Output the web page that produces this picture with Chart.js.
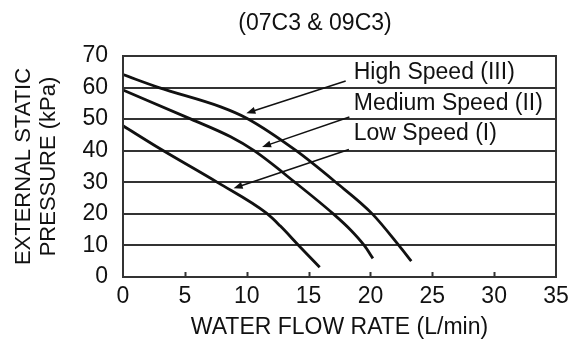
<!DOCTYPE html>
<html>
<head>
<meta charset="utf-8">
<script src="https://cdn.jsdelivr.net/npm/chart.js@4"></script>
<style>
  html, body { margin: 0; padding: 0; background: #fff; }
  #wrap { position: relative; width: 573px; height: 341px; }
</style>
</head>
<body>
<div id="wrap"><canvas id="chart"></canvas></div>
<script>
(function(){
  // pump curves: flow (L/min) vs pressure (kPa)
  const highX = [0, 2.9, 7.9, 10.0, 14.0, 17.2, 20.15, 22.3, 23.3];
  const highY = [64.1, 60, 53.9, 50.3, 40, 30, 20, 10, 5.0];
  const medX = [0, 5.5, 8.7, 10.6, 13.9, 17.0, 18.4, 19.5, 20.2];
  const medY = [59.2, 50, 44.4, 40, 30, 20, 14.9, 10, 5.9];
  const lowX = [0, 3.0, 7.7, 11.6, 12.7, 14.2, 15.9];
  const lowY = [47.9, 40.6, 29.8, 20.2, 16.2, 10, 3.1];

  const xTicks = [0, 5, 10, 15, 20, 25, 30, 35];
  const yTicks = [0, 10, 20, 30, 40, 50, 60, 70];

  // callouts: label text, where the text starts, where the arrow goes
  const labelNames = ["High Speed (III)", "Medium Speed (II)", "Low Speed (I)"];
  const labelX = [18.65, 18.65, 18.65];
  const labelY = [64.6, 54.8, 45.3];
  const arrowFromX = [18.0, 18.3, 18.26];
  const arrowFromY = [62.1, 50.7, 40.4];
  const arrowToX = [9.97, 11.24, 8.94];
  const arrowToY = [51.9, 41.2, 28.1];

  const chartTitle = "(07C3 & 09C3)";
  const xTitle = "WATER FLOW RATE (L/min)";
  const yTitle = ["EXTERNAL STATIC", "PRESSURE (kPa)"];

  const FONT = "'Liberation Sans', Arial, Helvetica, sans-serif";
  const INK = "#111";
  const GRID = "#333";

  function pts(xs, ys){
    return xs.map((x, i) => ({ x: x, y: ys[i] }));
  }

  function curve(label, xs, ys){
    return {
      label: label,
      data: pts(xs, ys),
      borderColor: INK,
      borderWidth: 2.8,
      pointRadius: 0,
      fill: false,
      cubicInterpolationMode: 'monotone'
    };
  }

  function drawArrow(ctx, x1, y1, x2, y2){
    const ang = Math.atan2(y2 - y1, x2 - x1);
    const head = 9, half = 3.5;
    ctx.beginPath();
    ctx.moveTo(x1, y1);
    ctx.lineTo(x2 - Math.cos(ang) * head * 0.8, y2 - Math.sin(ang) * head * 0.8);
    ctx.stroke();
    ctx.beginPath();
    ctx.moveTo(x2, y2);
    ctx.lineTo(x2 - Math.cos(ang) * head + Math.sin(ang) * half, y2 - Math.sin(ang) * head - Math.cos(ang) * half);
    ctx.lineTo(x2 - Math.cos(ang) * head - Math.sin(ang) * half, y2 - Math.sin(ang) * head + Math.cos(ang) * half);
    ctx.closePath();
    ctx.fill();
  }

  const extras = {
    id: 'extras',
    afterDraw(chart){
      const ctx = chart.ctx;
      const a = chart.chartArea;
      const xs = chart.scales.x, ys = chart.scales.y;
      ctx.save();

      // frame
      ctx.strokeStyle = GRID;
      ctx.lineWidth = 2;
      ctx.strokeRect(a.left, a.top, a.right - a.left, a.bottom - a.top);

      // short inward ticks on the flow axis
      xTicks.forEach(v => {
        if (v === xs.min || v === xs.max) return;
        const px = Math.round(xs.getPixelForValue(v)) + 0.5;
        ctx.beginPath();
        ctx.moveTo(px, a.bottom);
        ctx.lineTo(px, a.bottom - 5);
        ctx.stroke();
      });

      // callout arrows
      ctx.strokeStyle = INK;
      ctx.fillStyle = INK;
      ctx.lineWidth = 1.5;
      arrowFromX.forEach((fx, i) => {
        drawArrow(ctx,
          xs.getPixelForValue(fx), ys.getPixelForValue(arrowFromY[i]),
          xs.getPixelForValue(arrowToX[i]), ys.getPixelForValue(arrowToY[i]));
      });

      // callout labels
      ctx.font = "23px " + FONT;
      ctx.textAlign = 'left';
      ctx.textBaseline = 'middle';
      labelNames.forEach((t, i) => {
        ctx.fillText(t, xs.getPixelForValue(labelX[i]), ys.getPixelForValue(labelY[i]));
      });

      // chart title
      ctx.textAlign = 'center';
      ctx.fillText(chartTitle, 315, 24);
      ctx.restore();
    }
  };

  new Chart(document.getElementById('chart').getContext('2d'), {
    type: 'line',
    data: {
      datasets: [
        curve('High Speed (III)', highX, highY),
        curve('Medium Speed (II)', medX, medY),
        curve('Low Speed (I)', lowX, lowY)
      ]
    },
    options: {
      responsive: true,
      maintainAspectRatio: false,
      animation: false,
      layout: { padding: { top: 56, right: 17, bottom: 0, left: 0 } },
      plugins: {
        legend: { display: false },
        tooltip: { enabled: false },
        title: { display: false }
      },
      scales: {
        x: {
          type: 'linear',
          min: 0,
          max: 35,
          afterBuildTicks: s => { s.ticks = xTicks.map(v => ({ value: v })); },
          afterFit: s => { s.height = 64; s.paddingLeft = 0; s.paddingRight = 0; },
          ticks: { color: INK, font: { family: FONT, size: 23 }, padding: 6, maxRotation: 0 },
          grid: { drawOnChartArea: false, drawTicks: false },
          border: { display: true, color: GRID, width: 2 },
          title: {
            display: true, text: xTitle, color: INK,
            font: { family: FONT, size: 23 }, padding: { top: 0, bottom: 0 }
          }
        },
        y: {
          min: 0,
          max: 70,
          afterBuildTicks: s => { s.ticks = yTicks.map(v => ({ value: v })); },
          afterFit: s => { s.width = 123; s.paddingTop = 0; s.paddingBottom = 0; },
          ticks: { color: INK, font: { family: FONT, size: 23 }, padding: 15 },
          grid: { color: GRID, lineWidth: 2, drawTicks: false },
          border: { display: true, color: GRID, width: 2 },
          title: {
            display: true, text: yTitle, color: INK,
            font: { family: FONT, size: 22, lineHeight: 1.15 }, padding: { top: 11, bottom: 0 }
          }
        }
      }
    },
    plugins: [extras]
  });
})();
</script>
</body>
</html>
